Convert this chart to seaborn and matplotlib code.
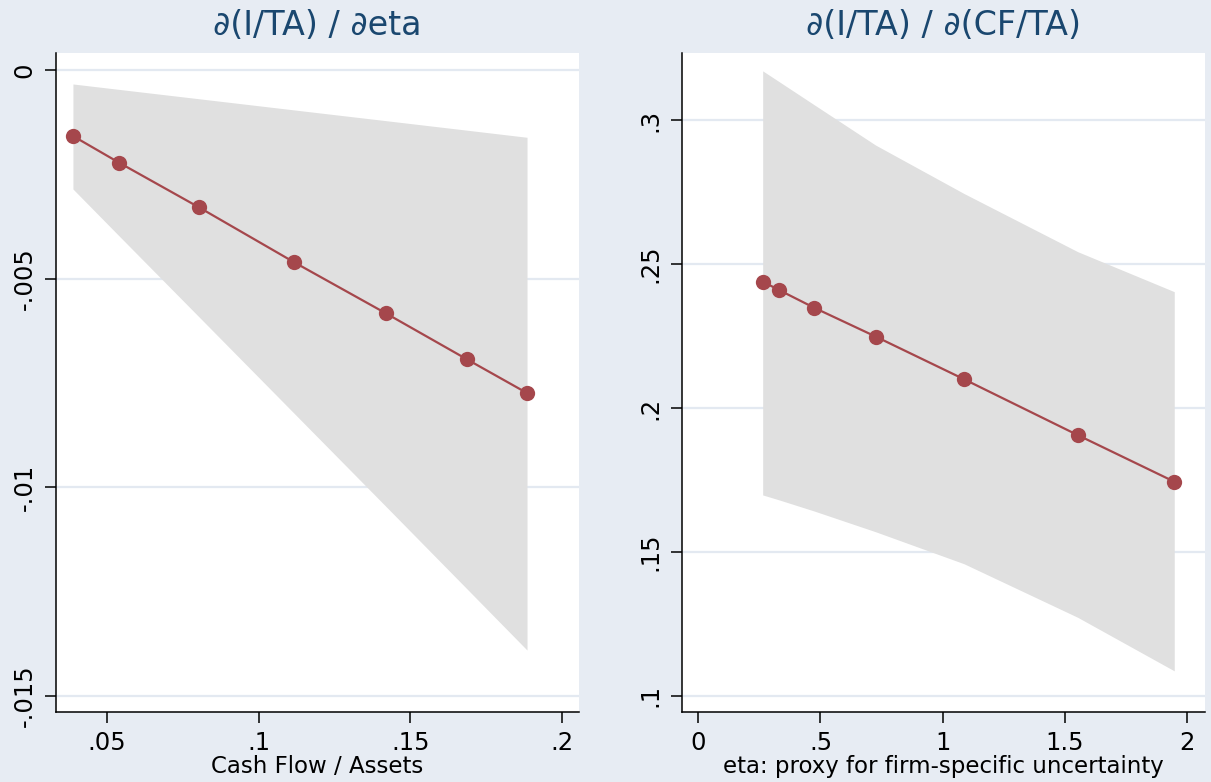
import matplotlib
matplotlib.use("Agg")
import matplotlib.pyplot as plt
import seaborn as sns
import pandas as pd

# left panel: d(I/TA)/d eta over cash flow / assets
cf = [0.0388, 0.0540, 0.0803, 0.1117, 0.1419, 0.1686, 0.1884]
me_eta = [-0.001581, -0.002220, -0.003289, -0.004607, -0.005829, -0.006931, -0.007739]
me_eta_hi = [-0.000335, -0.000465, -0.000689, -0.000957, -0.001214, -0.001442, -0.001612]
me_eta_lo = [-0.002851, -0.003975, -0.005912, -0.008227, -0.010454, -0.012429, -0.013896]

# right panel: d(I/TA)/d(CF/TA) over eta
eta = [0.2637, 0.330, 0.4747, 0.7257, 1.0867, 1.5515, 1.9465]
me_cf = [0.2439, 0.2410, 0.2348, 0.2248, 0.2100, 0.1906, 0.1744]
me_cf_hi = [0.3171, 0.3134, 0.3053, 0.2913, 0.2745, 0.2543, 0.2404]
me_cf_lo = [0.1698, 0.1681, 0.1642, 0.1570, 0.1459, 0.1273, 0.1087]

left_xticks = [0.05, 0.1, 0.15, 0.2]
left_xlabels = [".05", ".1", ".15", ".2"]
left_yticks = [0, -0.005, -0.01, -0.015]
left_ylabels = ["0", "-.005", "-.01", "-.015"]
right_xticks = [0, 0.5, 1, 1.5, 2]
right_xlabels = ["0", ".5", "1", "1.5", "2"]
right_yticks = [0.1, 0.15, 0.2, 0.25, 0.3]
right_ylabels = [".1", ".15", ".2", ".25", ".3"]

bg = "#e7ecf3"
navy = "#1a476f"
red = "#a5474c"
band = "#e0e0e0"

sns.set_theme(style="white")
plt.rcParams["font.family"] = ["DejaVu Sans"]

fig = plt.figure(figsize=(12.11, 7.82), dpi=100, facecolor=bg)
ax1 = fig.add_axes([0.0462, 0.0895, 0.4316, 0.8431])
ax2 = fig.add_axes([0.5629, 0.0895, 0.4321, 0.8431])


def panel(ax, x, y, lo, hi, title, xlab, xticks, xlabels, yticks, ylabels, xlim, ylim):
    df = pd.DataFrame({"x": x, "y": y})
    ax.set_facecolor("white")
    ax.set_axisbelow(True)
    ax.fill_between(x, lo, hi, color=band, linewidth=0, zorder=1)
    sns.lineplot(data=df, x="x", y="y", ax=ax, color=red, linewidth=1.6,
                 marker="o", markersize=11, markeredgewidth=0, zorder=3)
    ax.set_xlim(*xlim)
    ax.set_ylim(*ylim)
    ax.set_xticks(xticks, labels=xlabels)
    ax.set_yticks(yticks, labels=ylabels)
    ax.yaxis.grid(True, color="#e3e9f1", linewidth=1.6)
    ax.xaxis.grid(False)
    for s in ["top", "right"]:
        ax.spines[s].set_visible(False)
    for s in ["left", "bottom"]:
        ax.spines[s].set_color("black")
        ax.spines[s].set_linewidth(1.1)
    ax.tick_params(axis="both", direction="out", length=8, width=1.1,
                   color="black", labelsize=17.5, labelcolor="black", pad=6,
                   bottom=True, left=True)
    for lab in ax.get_yticklabels():
        lab.set_rotation(90)
        lab.set_va("center")
    ax.set_title(title, color=navy, fontsize=24, pad=13)
    ax.set_xlabel(xlab, fontsize=16.5, labelpad=0, color="black")
    ax.set_ylabel("")


panel(ax1, cf, me_eta, me_eta_lo, me_eta_hi, "∂(I/TA) / ∂eta",
      "Cash Flow / Assets", left_xticks, left_xlabels, left_yticks, left_ylabels,
      (0.0332, 0.2054), (-0.01538, 0.000414))
panel(ax2, eta, me_cf, me_cf_lo, me_cf_hi, "∂(I/TA) / ∂(CF/TA)",
      "eta: proxy for firm-specific uncertainty", right_xticks, right_xlabels,
      right_yticks, right_ylabels, (-0.0675, 2.072), (0.0944, 0.3234))

fig.savefig("out.png", dpi=100, facecolor=bg)
